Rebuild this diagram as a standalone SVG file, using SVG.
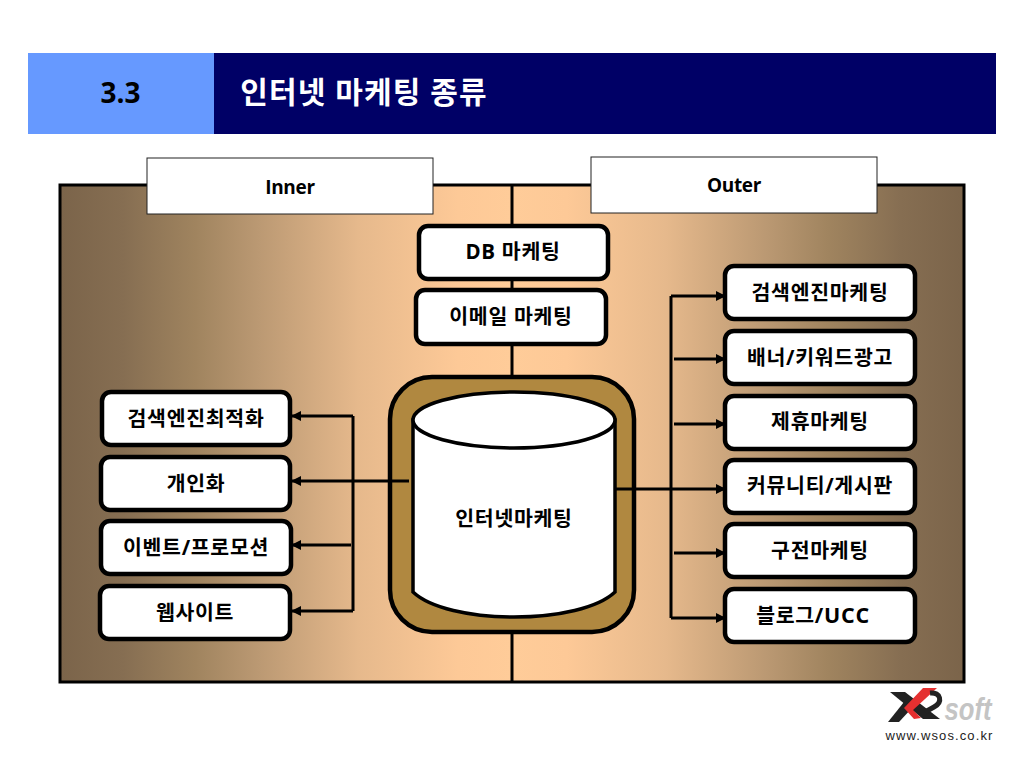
<svg xmlns="http://www.w3.org/2000/svg" width="1024" height="768" viewBox="0 0 1024 768">
<style>
text{font-family:"Open Sans","Noto Sans CJK KR",sans-serif;font-weight:700;fill:#000;text-anchor:middle}
.n{font-size:20.500px;letter-spacing:.7px}
.t{font-size:19px;font-weight:700;letter-spacing:-.3px}
.box{fill:#fff;stroke:#000;stroke-width:4.500}
.tab{fill:#fff;stroke:#222;stroke-width:1}
.l{fill:none;stroke:#000;stroke-width:3}
.a{fill:none;stroke:#000;stroke-width:3;marker-end:url(#ah)}
</style>
<defs>
<linearGradient id="g" x1="0" x2="1" y1="0" y2="0">
<stop offset="0" stop-color="#7b644a"/><stop offset=".07" stop-color="#866e52"/><stop offset=".15" stop-color="#a0845f"/><stop offset=".22" stop-color="#bb9973"/><stop offset=".33" stop-color="#e6b98c"/><stop offset=".44" stop-color="#fdc997"/><stop offset=".5" stop-color="#ffcc99"/><stop offset=".56" stop-color="#fdc997"/><stop offset=".67" stop-color="#e6b98c"/><stop offset=".78" stop-color="#bb9973"/><stop offset=".85" stop-color="#a0845f"/><stop offset=".93" stop-color="#866e52"/><stop offset="1" stop-color="#7b644a"/>
</linearGradient>
<marker id="ah" markerUnits="userSpaceOnUse" markerWidth="12" markerHeight="12" refX="10" refY="5" orient="auto"><path d="M0 0L10 5L0 10Z" fill="#000"/></marker>
</defs>
<g id="header">
<rect x="28" y="53" width="186" height="81" fill="#6699ff"/>
<rect x="214" y="53" width="782" height="81" fill="#000066"/>
<text x="120.500" y="103" font-size="28" style="font-weight:700">3.3</text>
<text x="364" y="103" font-size="30" style="fill:#fff;letter-spacing:1.100px;font-weight:700">인터넷 마케팅 종류</text>
</g>
<g id="panel">
<rect x="60" y="185" width="904" height="497" fill="url(#g)" stroke="#000" stroke-width="3"/>
<path d="M512 185V682" class="l"/>
</g>
<g id="database">
<rect x="390" y="377" width="244" height="255" rx="42" fill="#b08840" stroke="#000" stroke-width="4.500"/>
<path d="M413 420V592C430 608 470 617 514 617C558 617 598 608 615 592V420Z" fill="#fff" stroke="#000" stroke-width="3.500"/>
<ellipse cx="514" cy="420" rx="101" ry="28" fill="#fff" stroke="#000" stroke-width="3.500"/>
<text x="514" y="526" class="n">인터넷마케팅</text>
</g>
<g id="connectors">
<path d="M353 611V416M671 296V618" class="l"/>
<path d="M353 416H291" class="a"/>
<path d="M409 481H291" class="a"/>
<path d="M351 545H291" class="a"/>
<path d="M353 611H291" class="a"/>
<path d="M671 296H726" class="a"/>
<path d="M674 359H726" class="a"/>
<path d="M674 424H726" class="a"/>
<path d="M614 489H726" class="a"/>
<path d="M674 553H726" class="a"/>
<path d="M671 618H726" class="a"/>
</g>
<g id="inner"><rect x="147" y="158" width="286" height="56" class="tab"/><text x="290" y="194" class="t">Inner</text></g>
<g id="outer"><rect x="591" y="157" width="286" height="56" class="tab"/><text x="734" y="192" class="t">Outer</text></g>
<g id="db"><rect x="419" y="226" width="189" height="53" rx="9" class="box"/><text x="513" y="259" class="n">DB 마케팅</text></g>
<g id="email"><rect x="416" y="290" width="190" height="54" rx="9" class="box"/><text x="511" y="324" class="n">이메일 마케팅</text></g>
<g id="l1"><rect x="102" y="392" width="188" height="53" rx="9" class="box"/><text x="196" y="426" class="n">검색엔진최적화</text></g>
<g id="l2"><rect x="101" y="457" width="189" height="53" rx="9" class="box"/><text x="196" y="491" class="n">개인화</text></g>
<g id="l3"><rect x="101" y="521" width="190" height="53" rx="9" class="box"/><text x="196" y="555" class="n">이벤트/프로모션</text></g>
<g id="l4"><rect x="100" y="586" width="190" height="53" rx="9" class="box"/><text x="195" y="620" class="n">웹사이트</text></g>
<g id="r1"><rect x="725" y="266" width="190" height="53" rx="9" class="box"/><text x="820" y="300" class="n">검색엔진마케팅</text></g>
<g id="r2"><rect x="725" y="331" width="190" height="53" rx="9" class="box"/><text x="820" y="365" class="n">배너/키워드광고</text></g>
<g id="r3"><rect x="725" y="396" width="190" height="53" rx="9" class="box"/><text x="820" y="429" class="n">제휴마케팅</text></g>
<g id="r4"><rect x="725" y="460" width="190" height="53" rx="9" class="box"/><text x="820" y="493" class="n">커뮤니티/게시판</text></g>
<g id="r5"><rect x="725" y="524" width="190" height="53" rx="9" class="box"/><text x="820" y="558" class="n">구전마케팅</text></g>
<g id="r6"><rect x="725" y="589" width="190" height="53" rx="9" class="box"/><text x="813" y="623" class="n">블로그/<tspan font-size="21.500">UCC</tspan></text></g>
<g id="logo">
<text x="968" y="720" font-size="32" textLength="47" lengthAdjust="spacingAndGlyphs" style="font-family:'Liberation Sans',sans-serif;font-style:italic;font-weight:700;fill:#c4c4c4">soft</text>
<path d="M890 692H905L940 719H923Z" fill="#222"/>
<path d="M888 722H899L912 708L904 702Z" fill="#222"/>
<path d="M923 688H937L913 710L921 718L914 719L904 708Z" fill="#e53030"/>
<path d="M930 693C941 692 943 702 934 707L925 712" fill="none" stroke="#222" stroke-width="5"/>
<text x="939.500" y="740" font-size="13" style="font-family:'Liberation Sans',sans-serif;font-weight:400;fill:#222;letter-spacing:1.100px">www.wsos.co.kr</text>
</g>
</svg>
